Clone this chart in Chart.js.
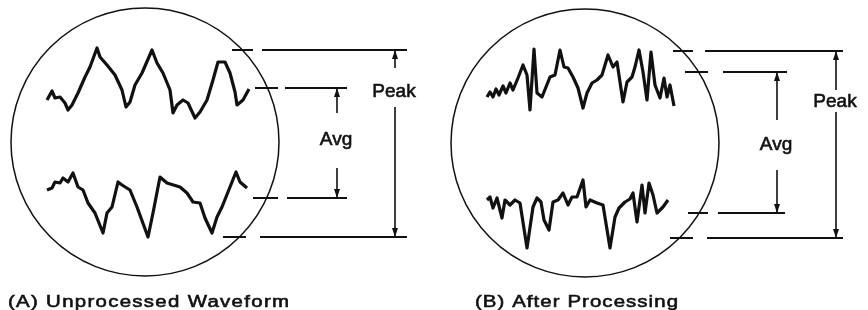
<!DOCTYPE html>
<html>
<head>
<meta charset="utf-8">
<script src="https://cdn.jsdelivr.net/npm/chart.js@4/dist/chart.umd.min.js"></script>
<style>
  body { margin: 0; background: #fff; }
  #wrap { width: 868px; height: 310px; position: relative; }
</style>
</head>
<body>
<div id="wrap"><canvas id="scope"></canvas></div>
<script>
// trace coordinates (diagram units, x right / y down)
var rawTop = [[47,100],[52,91],[55,98],[60,97],[65,103],[68,110],[72,105],[78,93],[85,77],[90,67],[97,48],[100,57],[107,65],[115,75],[122,90],[126,107],[130,102],[135,85],[142,73],[152,50],[157,63],[163,73],[170,90],[173,113],[177,105],[183,100],[188,103],[195,118],[200,112],[207,100],[213,80],[218,62],[225,62],[230,73],[235,92],[237,105],[243,100],[249,89]];
var rawBottom = [[47,190],[52,188],[55,182],[60,183],[63,178],[68,182],[73,173],[78,187],[83,190],[88,203],[95,213],[103,233],[107,213],[112,207],[118,182],[122,185],[130,190],[137,207],[148,237],[153,213],[160,177],[167,183],[180,187],[187,193],[193,202],[200,203],[205,218],[212,233],[217,217],[222,207],[230,187],[236,172],[240,182],[247,188]];
var procTop = [[487,97],[490,92],[493,97],[496,89],[499,95],[503,86],[506,93],[510,83],[513,90],[518,78],[523,65],[527,75],[530,110],[534,49],[537,93],[542,97],[546,87],[550,77],[555,75],[560,50],[564,67],[568,68],[573,77],[578,88],[583,108],[587,93],[592,83],[597,80],[602,75],[608,55],[613,67],[617,62],[623,102],[627,82],[632,77],[635,67],[639,50],[643,72],[647,100],[651,52],[655,85],[660,98],[664,78],[667,97],[670,85],[674,106]];
var procBottom = [[487,200],[490,197],[493,208],[497,198],[502,218],[505,200],[510,205],[515,200],[520,203],[527,248],[533,207],[537,198],[541,202],[544,220],[549,230],[553,202],[558,200],[563,193],[568,205],[572,197],[577,197],[583,180],[586,207],[590,200],[597,203],[603,205],[610,248],[615,217],[619,208],[625,202],[630,199],[633,193],[637,222],[642,185],[645,213],[649,183],[653,195],[657,213],[663,207],[668,200]];

// scope faces: centre x, centre y
var faces = [[145,142],[585,143]];

// extension lines: y, short dash, long line
var extLines = [
  [50, 232,253, 262,407], [88, 255,278, 285,347], [198, 253,278, 287,347], [237, 223,246, 260,407],
  [51, 673,693, 705,843], [72, 685,708, 723,787], [213, 688,708, 718,785], [238, 670,693, 707,843]
];
// dimension arrows: x, top, upper break, lower break, bottom
var dimArrows = [[395,50,68,107,237],[337,88,113,168,198],[836,51,90,112,238],[777,72,120,170,213]];

var labels = [
  { text: 'Peak', x: 394, y: 92, size: 19 },
  { text: 'Avg', x: 336, y: 140, size: 19 },
  { text: 'Peak', x: 835, y: 102, size: 19 },
  { text: 'Avg', x: 776, y: 145, size: 19 }
];
var captions = [
  { text: '(A) Unprocessed Waveform', x: 8, y: 307, width: 281 },
  { text: '(B) After Processing', x: 475, y: 307, width: 203 }
];

var INK = '#111';
function pts(arr) { return arr.map(function (p) { return { x: p[0], y: p[1] }; }); }

var datasets = [];
[rawTop, rawBottom, procTop, procBottom].forEach(function (w) {
  datasets.push({ data: pts(w), showLine: true, borderColor: INK, borderWidth: 3.2, pointRadius: 0, tension: 0, borderJoinStyle: 'round' });
});
datasets.push({
  data: pts(faces), showLine: false, pointRadius: 134, pointBorderWidth: 1.5, clip: false,
  pointBorderColor: INK, pointBackgroundColor: 'rgba(0,0,0,0)'
});
extLines.forEach(function (e) {
  datasets.push({
    data: [{x:e[1],y:e[0]},{x:e[2],y:e[0]},{x:e[2]+1,y:null},{x:e[3],y:e[0]},{x:e[4],y:e[0]}],
    showLine: true, spanGaps: false, borderColor: INK, borderWidth: 1.8, pointRadius: 0
  });
});
dimArrows.forEach(function (d) {
  datasets.push({
    data: [{x:d[0],y:d[1]},{x:d[0],y:d[2]},{x:d[0],y:null},{x:d[0],y:d[3]},{x:d[0],y:d[4]}],
    showLine: true, spanGaps: false, borderColor: INK, borderWidth: 1.6, pointRadius: 0, arrows: true
  });
});

var arrowPlugin = {
  id: 'arrowheads',
  afterDatasetsDraw: function (chart) {
    var ctx = chart.ctx;
    chart.data.datasets.forEach(function (ds, i) {
      if (!ds.arrows) return;
      var els = chart.getDatasetMeta(i).data;
      var a = els[0], b = els[els.length - 1];
      ctx.save();
      ctx.fillStyle = INK;
      [[a, 1], [b, -1]].forEach(function (p) {
        var x = p[0].x, y = p[0].y, s = p[1];
        ctx.beginPath();
        ctx.moveTo(x, y);
        ctx.lineTo(x - 3, y + s * 9);
        ctx.lineTo(x + 3, y + s * 9);
        ctx.closePath();
        ctx.fill();
      });
      ctx.restore();
    });
  }
};

var textPlugin = {
  id: 'diagramText',
  afterDraw: function (chart) {
    var ctx = chart.ctx, xs = chart.scales.x, ys = chart.scales.y;
    ctx.save();
    ctx.fillStyle = INK;
    ctx.strokeStyle = INK;
    ctx.lineWidth = 0.6;
    ctx.textAlign = 'center';
    ctx.textBaseline = 'middle';
    labels.forEach(function (l) {
      ctx.font = l.size + 'px "Liberation Sans", Arial, sans-serif';
      var px = xs.getPixelForValue(l.x), py = ys.getPixelForValue(l.y);
      ctx.fillText(l.text, px, py);
      ctx.strokeText(l.text, px, py);
    });
    ctx.textAlign = 'left';
    ctx.textBaseline = 'alphabetic';
    captions.forEach(function (c) {
      ctx.font = '17px "Liberation Sans", Arial, sans-serif';
      var w = ctx.measureText(c.text).width;
      var stretch = Math.min(c.width / w, 1.2);
      var rest = c.width - w * stretch;
      ctx.save();
      ctx.translate(xs.getPixelForValue(c.x), ys.getPixelForValue(c.y));
      ctx.scale(stretch, 1);
      ctx.letterSpacing = (rest / stretch / (c.text.length - 1)) + 'px';
      ctx.fillText(c.text, 0, 0);
      ctx.strokeText(c.text, 0, 0);
      ctx.restore();
    });
    ctx.restore();
  }
};

new Chart(document.getElementById('scope'), {
  type: 'scatter',
  data: { datasets: datasets },
  options: {
    responsive: true,
    maintainAspectRatio: false,
    animation: false,
    layout: { padding: 0, autoPadding: false },
    plugins: { legend: { display: false }, tooltip: { enabled: false } },
    scales: {
      x: { type: 'linear', min: 0, max: 868, display: false },
      y: { type: 'linear', min: 0, max: 310, reverse: true, display: false }
    },
    elements: { line: { borderCapStyle: 'butt' } }
  },
  plugins: [arrowPlugin, textPlugin]
});
</script>
</body>
</html>
